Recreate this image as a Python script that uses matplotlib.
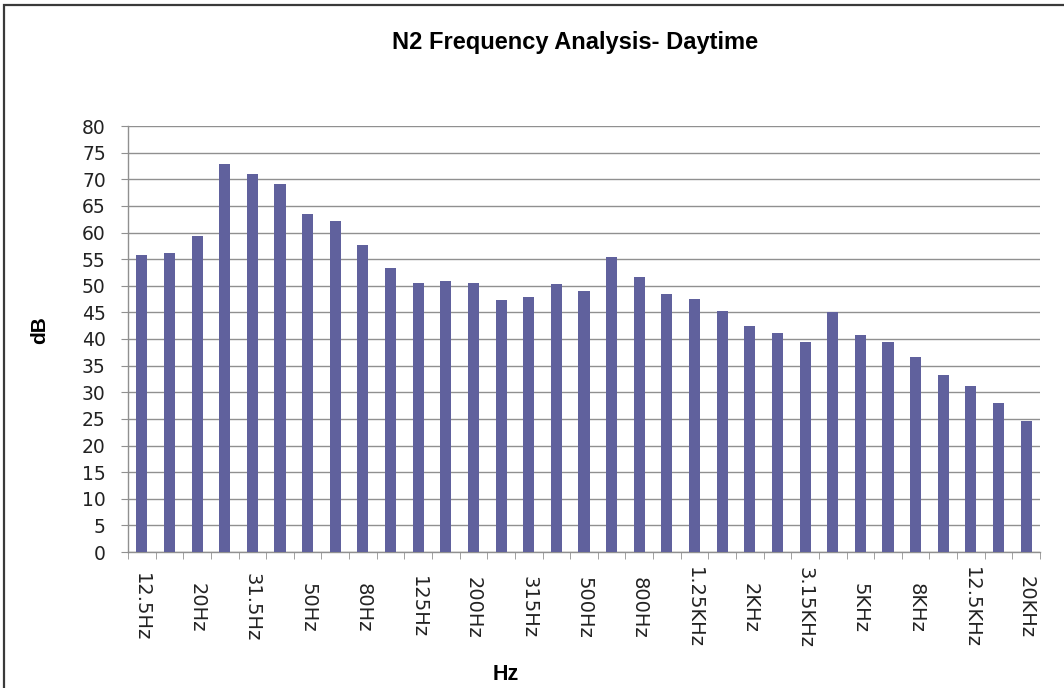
import matplotlib
matplotlib.use("Agg")
import matplotlib.pyplot as plt
from matplotlib.patches import Rectangle
import numpy as np

# One-third octave band centres and measured levels
bands = ["12.5Hz", "16Hz", "20Hz", "25Hz", "31.5Hz", "40Hz", "50Hz", "63Hz", "80Hz",
         "100Hz", "125Hz", "160Hz", "200Hz", "250Hz", "315Hz", "400Hz", "500Hz",
         "630Hz", "800Hz", "1KHz", "1.25KHz", "1.6KHz", "2KHz", "2.5KHz", "3.15KHz",
         "4KHz", "5KHz", "6.3KHz", "8KHz", "10KHz", "12.5KHz", "16KHz", "20KHz"]
levels_db = [55.8, 56.1, 59.3, 72.8, 71.0, 69.2, 63.4, 62.1, 57.7, 53.4, 50.5, 50.8,
             50.5, 47.4, 47.8, 50.3, 49.0, 55.4, 51.6, 48.4, 47.5, 45.2, 42.4, 41.2,
             39.4, 45.1, 40.8, 39.4, 36.6, 33.2, 31.2, 27.9, 24.6]
y_ticks = list(range(0, 81, 5))

plt.rcParams["font.family"] = ["Liberation Sans", "DejaVu Sans"]

fig = plt.figure(figsize=(10.64, 6.88), dpi=100)
fig.patch.set_facecolor("white")
# outer chart frame
fig.add_artist(Rectangle((0.004, -0.01), 1.2, 1.0025, transform=fig.transFigure,
                         fill=False, edgecolor="#3a3a3a", linewidth=1.6))

ax = fig.add_axes([128 / 1064, 1 - 552 / 688, 912 / 1064, 426 / 688])
x = np.arange(len(bands))
ax.bar(x, levels_db, width=0.4, color="#60619D", zorder=3)

ax.set_xlim(-0.5, len(bands) - 0.5)
ax.set_ylim(0, 80)
ax.set_yticks(y_ticks)
ax.set_yticklabels([str(v) for v in y_ticks], fontsize=13.5, color="#222222",
                   family="DejaVu Sans")
ax.yaxis.grid(True, color="#909090", linewidth=1.0, zorder=0)
ax.set_axisbelow(True)

# labels on every other band, tick marks on band boundaries
ax.set_xticks(x[::2])
ax.set_xticklabels(bands[::2], rotation=270, fontsize=14, color="#222222",
                   va="center", ha="center", family="DejaVu Sans")
ax.tick_params(axis="x", which="major", length=0, pad=40)
ax.set_xticks(np.arange(-0.5, len(bands), 1.0), minor=True)
ax.tick_params(axis="x", which="minor", length=5, color="#909090", direction="out")
ax.tick_params(axis="y", length=5, color="#909090", direction="out", pad=11)

for side in ("top", "right"):
    ax.spines[side].set_visible(False)
for side in ("left", "bottom"):
    ax.spines[side].set_color("#909090")
    ax.spines[side].set_linewidth(1.0)

fig.text(575 / 1064, 1 - 43 / 688, "N2 Frequency Analysis- Daytime", ha="center",
         va="center", fontsize=17, fontweight="bold")
fig.text(40 / 1064, 1 - 330 / 688, "dB", ha="center", va="center", rotation=90,
         fontsize=15, fontweight="bold")
fig.text(506 / 1064, 1 - 675 / 688, "Hz", ha="center", va="center",
         fontsize=15.5, fontweight="bold")

fig.savefig("out.png", dpi=100, facecolor="white")
